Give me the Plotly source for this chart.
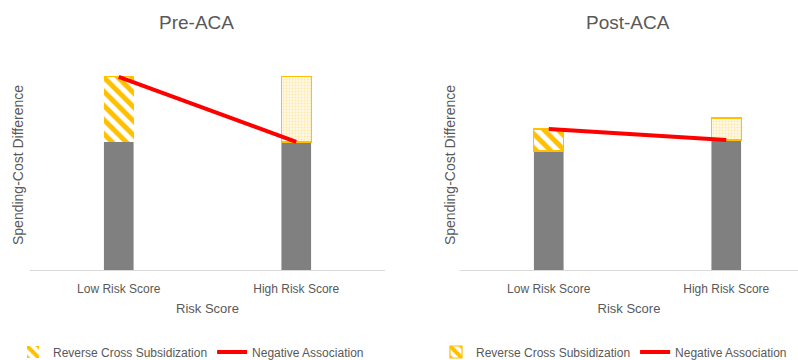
import plotly.graph_objects as go

categories = ["Low Risk Score", "High Risk Score"]
cat_pos = [0, 1]

# Pre-ACA values (arbitrary units)
pre_base = [6.1, 6.1]
pre_rcs = [3.1, 0]          # hatched (low risk)
pre_extra = [0, 3.1]        # dotted (high risk)
pre_line = [9.2, 6.1]

# Post-ACA values
post_base = [5.67, 6.19]
post_rcs = [1.04, 0]
post_extra = [0, 1.05]
post_line = [6.71, 6.19]

GRAY = "#808080"
GOLD = "#FFC000"
RED = "#FF0000"
TXT = "#595959"
FONT = "Liberation Sans"

fig = go.Figure()

def add_panel(xa, ya, base, rcs, extra, line, legend, border):
    fig.add_trace(go.Bar(x=cat_pos, y=base, marker_color=GRAY, width=0.17,
                         xaxis=xa, yaxis=ya, showlegend=False))
    fig.add_trace(go.Bar(x=cat_pos, y=rcs, width=0.17, xaxis=xa, yaxis=ya,
                         name="Reverse Cross Subsidization", legend=legend,
                         marker=dict(color="white",
                                     line=dict(color=GOLD, width=1.2 if border else 0),
                                     pattern=dict(shape="\\", fgcolor=GOLD, bgcolor="white",
                                                  size=10, solidity=0.5, fillmode="replace"))))
    fig.add_trace(go.Bar(x=cat_pos, y=extra, width=0.17, xaxis=xa, yaxis=ya,
                         showlegend=False,
                         marker=dict(color="#FFF6DA", line=dict(color=GOLD, width=1.2),
                                     pattern=dict(shape=".", fgcolor="#FFD966", bgcolor="#FFF8E5",
                                                  size=3, solidity=0.3))))
    fig.add_trace(go.Scatter(x=cat_pos, y=line, mode="lines", xaxis=xa, yaxis=ya,
                             name="Negative Association", legend=legend,
                             line=dict(color=RED, width=4)))

add_panel("x", "y", pre_base, pre_rcs, pre_extra, pre_line, "legend", False)
add_panel("x2", "y2", post_base, post_rcs, post_extra, post_line, "legend2", True)

ydom = [90 / 360, 300 / 360]
axis_common = dict(showgrid=False, zeroline=False, tickmode="array", tickvals=cat_pos,
                   ticktext=categories, ticks="", showline=True, linecolor="#D9D9D9",
                   linewidth=1, tickfont=dict(size=12, color=TXT, family=FONT),
                   ticklabelstandoff=8, automargin=False, fixedrange=True)
yaxis_common = dict(showgrid=False, zeroline=False, showticklabels=False, ticks="",
                    showline=False, range=[0, 10], automargin=False, fixedrange=True)

fig.update_layout(
    width=798, height=360, margin=dict(l=0, r=0, t=0, b=0, autoexpand=False),
    paper_bgcolor="white", plot_bgcolor="white", barmode="stack",
    font=dict(family=FONT, color=TXT),
    xaxis=dict(domain=[30 / 798, 385 / 798], range=[-0.5, 1.5], anchor="y",
               title=dict(text="Risk Score", font=dict(size=13, color=TXT), standoff=8),
               **axis_common),
    yaxis=dict(domain=ydom, anchor="x",
               title=dict(text="Spending-Cost Difference", font=dict(size=14, color=TXT), standoff=2),
               **yaxis_common),
    xaxis2=dict(domain=[460 / 798, 1.0], range=[-0.5, 1.404], anchor="y2",
                title=dict(text="Risk Score", font=dict(size=13, color=TXT), standoff=8),
                **axis_common),
    yaxis2=dict(domain=ydom, anchor="x2",
                title=dict(text="Spending-Cost Difference", font=dict(size=14, color=TXT), standoff=0),
                **yaxis_common),
    legend=dict(orientation="h", x=13 / 798, y=8 / 360, xanchor="left", yanchor="middle",
                font=dict(size=12, color=TXT, family=FONT), itemwidth=30,
                bgcolor="rgba(0,0,0,0)", traceorder="normal"),
    legend2=dict(orientation="h", x=436 / 798, y=8 / 360, xanchor="left", yanchor="middle",
                 font=dict(size=12, color=TXT, family=FONT), itemwidth=30,
                 bgcolor="rgba(0,0,0,0)", traceorder="normal"),
    annotations=[
        dict(text="Pre-ACA", x=196 / 798, y=1 - 22 / 360, xref="paper", yref="paper",
             showarrow=False, font=dict(size=19, color=TXT, family=FONT),
             xanchor="center", yanchor="middle"),
        dict(text="Post-ACA", x=628 / 798, y=1 - 22 / 360, xref="paper", yref="paper",
             showarrow=False, font=dict(size=19, color=TXT, family=FONT),
             xanchor="center", yanchor="middle"),
    ],
)

fig.write_html("out.html")
